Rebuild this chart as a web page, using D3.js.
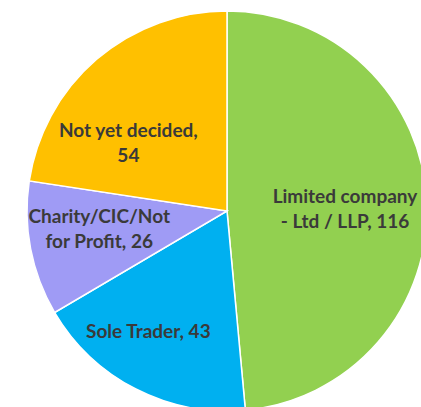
<!DOCTYPE html>
<html><head><meta charset="utf-8">
<script src="https://cdn.jsdelivr.net/npm/d3@7"></script>
<style>html,body{margin:0;padding:0;background:#fff;}svg{display:block;}</style>
</head><body>
<svg id="chart" width="421" height="407"></svg>
<script>
const categories = ["Limited company - Ltd / LLP", "Sole Trader", "Charity/CIC/Not for Profit", "Not yet decided"];
const values = [116, 43, 26, 54];
const colors = ["#92D050", "#00B0F0", "#9F9BF5", "#FFC000"];
const labelLines = [["Limited company", "- Ltd / LLP, 116"], ["Sole Trader, 43"], ["Charity/CIC/Not", "for Profit, 26"], ["Not yet decided,", "54"]];
// label layout: radius fraction and angular shift (degrees) from slice bisector
const labelRadiusFrac = [0.59, 0.72, 0.645, 0.60];
const labelAngleShift = [1.6, 6, 3, -14.6];

const svg = d3.select("#chart");
const cx = 227, cy = 211, R = 200;
const g = svg.append("g").attr("transform", `translate(${cx},${cy})`);

const data = categories.map((c, i) => ({name: c, value: values[i], i}));
const pie = d3.pie().sort(null).value(d => d.value);
const arc = d3.arc().innerRadius(0).outerRadius(R);
const arcs = pie(data);

g.selectAll("path.slice").data(arcs).join("path")
  .attr("class", "slice")
  .attr("d", arc)
  .attr("fill", d => colors[d.data.i])
  .attr("stroke", "#fff")
  .attr("stroke-width", 1.5);

const lineH = 24.5;
const lbl = g.selectAll("text.lbl").data(arcs).join("text")
  .attr("class", "lbl")
  .attr("text-anchor", "middle")
  .attr("font-family", "Lato, 'Open Sans', sans-serif")
  .attr("font-weight", "bold")
  .attr("font-size", 19)
  .attr("fill", "#3a3a3a")
  .attr("transform", d => {
    const i = d.data.i;
    const a = (d.startAngle + d.endAngle) / 2 + labelAngleShift[i] * Math.PI / 180;
    const r = R * labelRadiusFrac[i];
    return `translate(${r * Math.sin(a)},${-r * Math.cos(a)})`;
  });
lbl.each(function(d) {
  const lines = labelLines[d.data.i];
  const t = d3.select(this);
  const n = lines.length;
  lines.forEach((s, k) => {
    t.append("tspan").attr("x", 0)
      .attr("y", (k - (n - 1) / 2) * lineH)
      .attr("dy", "0.35em")
      .text(s);
  });
});
</script>
</body></html>
